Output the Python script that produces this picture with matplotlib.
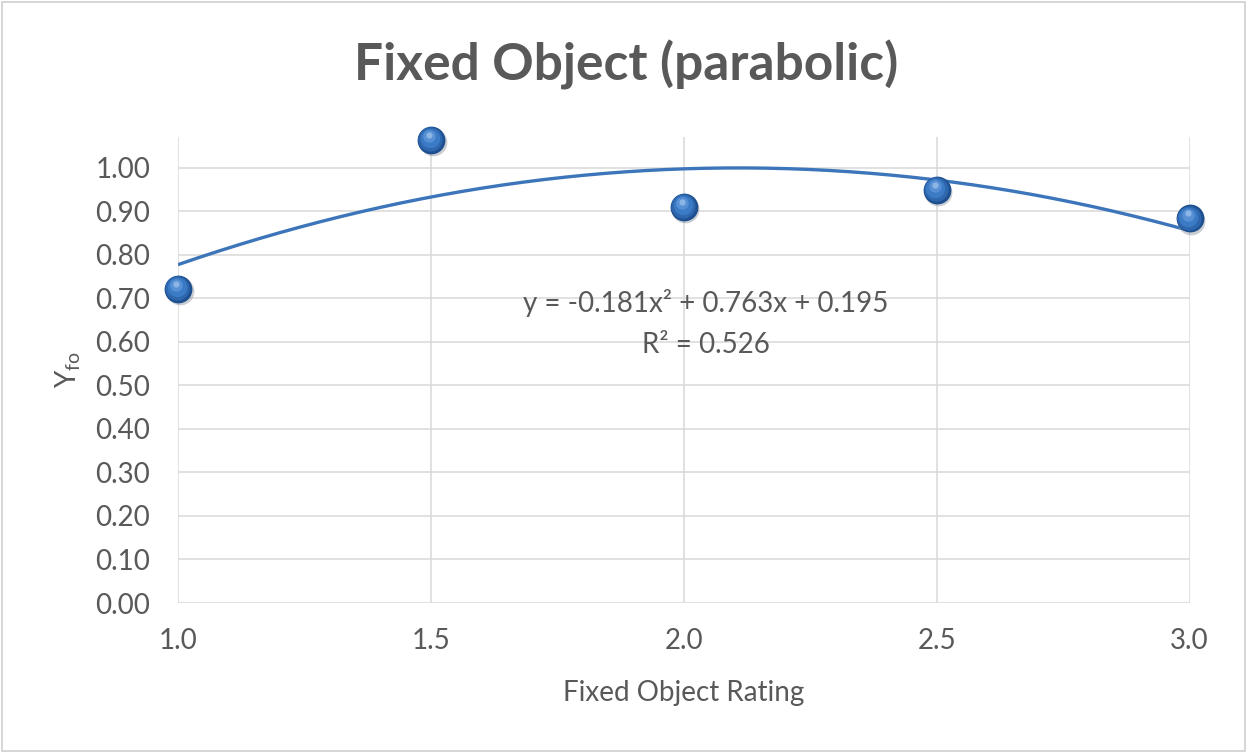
import matplotlib
matplotlib.use("Agg")
import matplotlib.pyplot as plt
from matplotlib.transforms import offset_copy
import numpy as np

# rating values and measured Y_fo
ratings = [1.0, 1.5, 2.0, 2.5, 3.0]
y_fo = [0.722, 1.064, 0.910, 0.949, 0.883]

# quadratic trendline coefficients (highest power first) and fit quality
trend_coef = [-0.181, 0.763, 0.195]
r_squared = 0.526

y_ticks = [0.0, 0.1, 0.2, 0.3, 0.4, 0.5, 0.6, 0.7, 0.8, 0.9, 1.0]
x_ticks = [1.0, 1.5, 2.0, 2.5, 3.0]

plt.rcParams['font.family'] = ['Lato', 'DejaVu Sans']
text_gray = '#595959'
grid_gray = '#D9D9D9'

fig = plt.figure(figsize=(12.47, 7.53), dpi=100)
ax = fig.add_axes([0.1427, 0.1992, 0.954 - 0.1427, 0.818 - 0.1992])

# light frame around the whole chart
fig.patches.append(plt.Rectangle((0.002, 0.003), 0.996, 0.994, transform=fig.transFigure,
                                 fill=False, edgecolor='#D0D0D0', lw=1.2))

ax.set_xlim(1.0, 3.0)
ax.set_ylim(0.0, 1.07)
ax.set_xticks(x_ticks)
ax.set_xticklabels([f'{v:.1f}' for v in x_ticks])
ax.set_yticks(y_ticks)
ax.set_yticklabels([f'{v:.2f}' for v in y_ticks])
ax.grid(True, color=grid_gray, lw=1.1)
ax.set_axisbelow(True)
for s in ax.spines.values():
    s.set_visible(False)
ax.tick_params(length=0, labelsize=20, colors=text_gray)
ax.tick_params(axis='y', pad=20)
ax.tick_params(axis='x', pad=18)

# trendline
xs = np.linspace(min(ratings), max(ratings), 200)
ax.plot(xs, np.polyval(trend_coef, xs), color='#3D75BA', lw=2.4, zorder=3,
        solid_capstyle='butt')

# shaded "sphere" markers: shadow, body, lighter core, highlight
def sphere_layer(dx, dy, ms, color, z, alpha=1.0):
    tr = offset_copy(ax.transData, fig=fig, x=dx, y=dy, units='points')
    ax.plot(ratings, y_fo, 'o', ms=ms, color=color, mec='none', alpha=alpha,
            transform=tr, zorder=z, clip_on=False)

sphere_layer(1.2, -1.6, 20, '#8A939C', 4, alpha=0.45)
sphere_layer(0, 0, 20, '#1E4F8F', 5)
sphere_layer(-0.4, 0.5, 17.5, '#2E67AE', 6)
sphere_layer(-0.9, 1.3, 14, '#3B7BC6', 7)
sphere_layer(-1.4, 2.4, 9, '#5790D4', 8)
sphere_layer(-1.2, 3.6, 4.5, '#94BCE8', 9, alpha=0.85)

# equation and R² label
a, b, c = trend_coef
eq = f'y = {a:.3f}x² + {b:.3f}x + {c:.3f}'
ax.text(2.043, 0.690, eq, ha='center', va='center', fontsize=20, color=text_gray, zorder=10)
ax.text(2.043, 0.593, f'R² = {r_squared:.3f}', ha='center', va='center',
        fontsize=20, color=text_gray, zorder=10)

fig.text(0.502, 0.914, 'Fixed Object (parabolic)', ha='center', va='center',
         fontsize=37, fontweight='bold', color=text_gray)
ax.set_xlabel('Fixed Object Rating', fontsize=20, color=text_gray, labelpad=19)
ax.set_ylabel('Y$_{\\mathregular{fo}}$', fontsize=20, color=text_gray, labelpad=9)

fig.savefig('out.png', dpi=100, facecolor='white')
